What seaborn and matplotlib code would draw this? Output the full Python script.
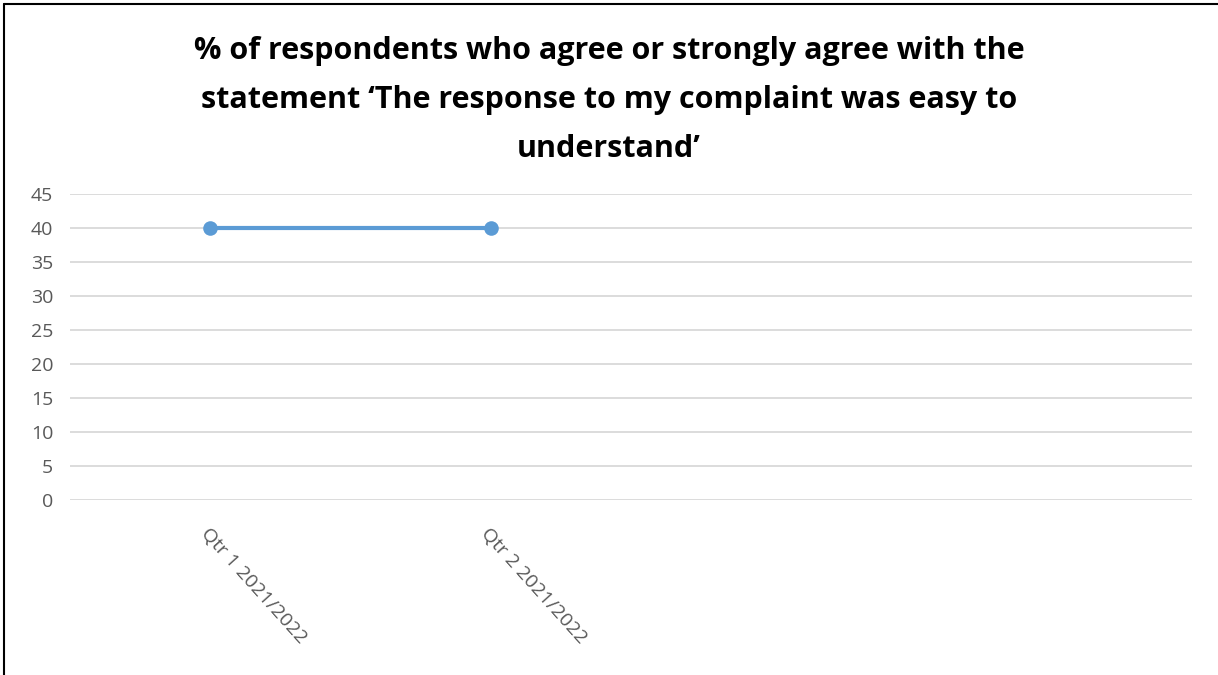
import pandas as pd
import seaborn as sns
import matplotlib.pyplot as plt
from matplotlib.lines import Line2D

# datos
quarters = ["Qtr 1 2021/2022", "Qtr 2 2021/2022", "", ""]
pct_agree = [40, 40, None, None]
y_ticks = [0, 5, 10, 15, 20, 25, 30, 35, 40, 45]

title = ("% of respondents who agree or strongly agree with the\n"
         "statement \u2018The response to my complaint was easy to\n"
         "understand\u2019")

df = pd.DataFrame({"pos": range(len(quarters)), "quarter": quarters, "value": pct_agree})
df = df.dropna()

sns.set_style("white")
plt.rcParams['font.family'] = ['Open Sans', 'DejaVu Sans']

fig = plt.figure(figsize=(12.18, 6.75), dpi=100)
ax = fig.add_axes([0.0575, 0.2593, 0.9215, 0.4533])

sns.lineplot(data=df, x="pos", y="value", ax=ax, color="#5B9BD5", linewidth=3,
             marker="o", markersize=10.5, markeredgewidth=0)

ax.set_xlim(-0.5, len(quarters) - 0.5)
ax.set_ylim(0, 45)
ax.set_yticks(y_ticks)
ax.set_xticks(range(len(quarters)))
ax.set_xticklabels(quarters, rotation=-48, ha="left", va="top", rotation_mode="anchor")
ax.tick_params(axis="both", length=0, labelsize=14, labelcolor="#595959")
ax.tick_params(axis="x", pad=18)
ax.tick_params(axis="y", pad=12)
ax.yaxis.grid(True, color="#D9D9D9", linewidth=1.3)
ax.set_axisbelow(True)
for s in ax.spines.values():
    s.set_visible(False)
ax.set_xlabel("")
ax.set_ylabel("")

fig.text(0.5, 0.947, title, ha="center", va="top", fontsize=22, fontweight="bold",
         color="black", linespacing=1.83)

# borde superior e izquierdo como en la captura
fig.add_artist(Line2D([0.0033, 1.0], [1 - 4 / 675, 1 - 4 / 675], color="black", linewidth=1.5))
fig.add_artist(Line2D([0.0033, 0.0033], [0, 1 - 4 / 675], color="black", linewidth=1.5))

fig.savefig("out.png", dpi=100)
